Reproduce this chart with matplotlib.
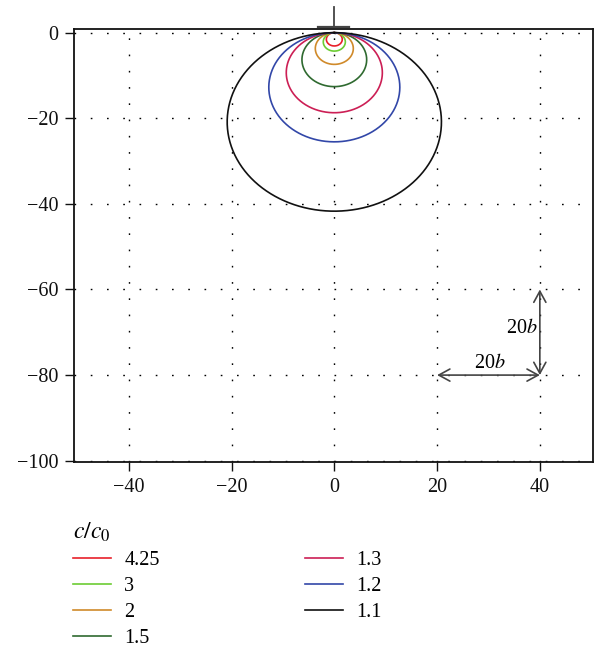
import numpy as np
import matplotlib
matplotlib.use('Agg')
import matplotlib.pyplot as plt

# contour levels c/c0 and the depth (diameter) of each closed curve
levels = ['4.25', '3', '2', '1.5', '1.3', '1.2', '1.1']
diameters = [3.1, 4.3, 7.4, 12.6, 18.7, 25.5, 41.7]
colors = ['#e8202a', '#6ccc33', '#d08a2a', '#2f6a30', '#cc1f55', '#3247a8', '#111111']

x_ticks = [-40, -20, 0, 20, 40]
y_ticks = [0, -20, -40, -60, -80, -100]

plt.rcParams['font.family'] = ['Liberation Serif', 'DejaVu Serif']
plt.rcParams['mathtext.fontset'] = 'stix'
plt.rcParams['font.size'] = 14.5

fig = plt.figure(figsize=(5.95, 6.52), dpi=100)
ax = fig.add_axes([0.1249, 0.2910, 0.8722, 0.6641])

theta = np.linspace(0, 2 * np.pi, 500)
for lab, d, col in zip(levels, diameters, colors):
    r = d / 2.0
    ax.plot(r * np.sin(theta), -r + r * np.cos(theta), color=col, lw=1.2, label=lab)

ax.set_xlim(-50.6, 50.4)
ax.set_ylim(-100.37, 0.8)
ax.set_xticks(x_ticks)
ax.set_yticks(y_ticks)
ax.grid(True, color='k', linestyle=(0, (1.2, 10.5)), lw=1.0)
ax.tick_params(direction='out', length=6.8, width=1.0, colors='#111111', labelsize=14.5, pad=4.5)
for sp in ax.spines.values():
    sp.set_linewidth(1.3)
    sp.set_color('#111111')

# source symbol above the surface
ax.plot([-3.2, 2.8], [1.4, 1.4], color='#444444', lw=1.6, clip_on=False)
ax.plot([0, 0], [1.4, 6.0], color='#444444', lw=1.3, clip_on=False)

# scale arrows
arr = dict(arrowstyle='<->,head_length=0.55,head_width=0.3', color='#444444', lw=1.2,
           shrinkA=0, shrinkB=0)
ax.annotate('', xy=(20, -80), xytext=(40, -80), arrowprops=arr)
ax.annotate('', xy=(40, -60), xytext=(40, -80), arrowprops=arr)
ax.text(30.3, -79.5, r'20$b$', ha='center', va='bottom', fontsize=14.5)
ax.text(39.5, -69, r'20$b$', ha='right', va='center', fontsize=14.5)

leg = fig.legend(loc='upper left', bbox_to_anchor=(0.099, 0.223), ncol=2, frameon=False,
                 title=r'$c/c_0$', alignment='left', handlelength=1.9, handletextpad=0.65,
                 columnspacing=7.2, labelspacing=0.34, fontsize=14.5, title_fontsize=17,
                 borderaxespad=0.3)

fig.savefig('out.png', dpi=100)
